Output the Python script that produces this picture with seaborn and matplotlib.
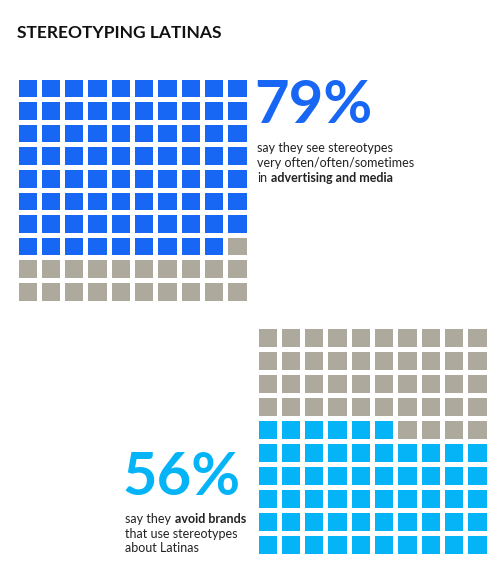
import numpy as np
import matplotlib
matplotlib.use('Agg')
import matplotlib.pyplot as plt
import seaborn as sns
from matplotlib.colors import ListedColormap
from matplotlib.text import Annotation

title = 'STEREOTYPING LATINAS'
percents = [79, 56]
big_labels = ['79%', '56%']
# each line is a list of (text, bold) pieces
text_top = [[('say they see stereotypes', False)],
            [('very often/often/sometimes', False)],
            [('in', False), ('advertising and media', True)]]
text_bottom = [[('say they', False), ('avoid brands', True)],
               [('that use stereotypes', False)],
               [('about Latinas', False)]]

blue = '#1766f4'
light_blue = '#05b4f6'
gray = '#ada99c'

sns.set_theme(style='white')
plt.rcParams['font.family'] = ['Lato', 'DejaVu Sans']

W, H = 500, 580
fig = plt.figure(figsize=(W / 100, H / 100), dpi=100)


def px(x, y):
    return x / W, 1 - y / H


# waffle grids, 1 = share saying yes
grid1 = np.zeros((10, 10))
grid2 = np.zeros((10, 10))
for r in range(10):
    for c in range(10):
        if r * 10 + c < percents[0]:
            grid1[r, c] = 1
        if (9 - r) * 10 + c < percents[1]:
            grid2[r, c] = 1

ax1 = fig.add_axes([15.5 / W, 1 - 302.5 / H, 233 / W, 226 / H])
sns.heatmap(grid1, ax=ax1, cmap=ListedColormap([gray, blue]), vmin=0, vmax=1,
            cbar=False, linewidths=2.5, linecolor='white',
            xticklabels=False, yticklabels=False)
ax1.axis('off')

ax2 = fig.add_axes([255.5 / W, 1 - 555.5 / H, 233 / W, 230 / H])
sns.heatmap(grid2, ax=ax2, cmap=ListedColormap([gray, light_blue]), vmin=0, vmax=1,
            cbar=False, linewidths=2.5, linecolor='white',
            xticklabels=False, yticklabels=False)
ax2.axis('off')

fig.text(*px(17, 38), title, fontsize=12.5, weight='bold', color='#111111', va='baseline')

fig.text(*px(254, 123), big_labels[0], fontsize=43, weight='bold', color=blue, va='baseline')
fig.text(*px(122, 495), big_labels[1], fontsize=43, weight='bold', color=light_blue, va='baseline')


def write_lines(x, y0, lines, step):
    for i, line in enumerate(lines):
        t = fig.text(*px(x, y0 + i * step), line[0][0], fontsize=9,
                     weight='bold' if line[0][1] else 'normal', color='#222222', va='baseline')
        for s, b in line[1:]:
            t = fig.add_artist(Annotation(s, xy=(1, 0), xycoords=t, xytext=(3.0, 0),
                                          textcoords='offset points', va='bottom', ha='left',
                                          fontsize=9, weight='bold' if b else 'normal',
                                          color='#222222'))


write_lines(257, 152, text_top, 15)
write_lines(125, 523, text_bottom, 14.5)

fig.savefig('out.png', dpi=100)
